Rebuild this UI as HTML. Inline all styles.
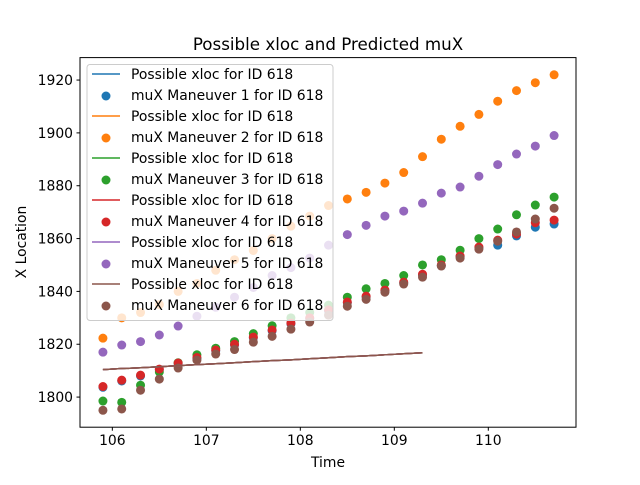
<!DOCTYPE html>
<html><head><meta charset="utf-8"><style>
body{margin:0;background:#fff}
text{font-family:"DejaVu Sans","Liberation Sans",sans-serif}
</style></head><body>
<svg id="chart" width="640" height="480" xmlns="http://www.w3.org/2000/svg"></svg>
<script>
const times=[105.9,106.1,106.3,106.5,106.7,106.9,107.1,107.3,107.5,107.7,107.9,108.1,108.3,108.5,108.7,108.9,109.1,109.3,109.5,109.7,109.9,110.1,110.3,110.5,110.7];
const mux1=[1803.7,1806.1,1808,1810.3,1812.6,1814.7,1817.5,1819.7,1822.4,1825.1,1827.7,1829.7,1832.7,1835.7,1837.9,1840.2,1843.2,1846.2,1849.7,1853.1,1856.5,1857.5,1861,1864.3,1865.5];
const mux2=[1822.3,1830,1832,1835,1840,1843,1848,1852,1855.5,1860,1864.7,1868.5,1872.5,1875,1877.5,1881,1885,1891,1897.6,1902.5,1907,1912,1916,1919,1922];
const mux3=[1798.5,1798,1804.5,1809.5,1813,1816,1818.5,1821,1824,1827,1830,1832,1834.8,1837.8,1841,1843,1846,1850,1852,1855.6,1860,1863.6,1869,1872.7,1875.7];
const mux4=[1804,1806.4,1808.3,1810.6,1812.9,1815,1817.8,1820,1822.7,1825.4,1828,1830,1833,1836,1838.2,1840.5,1843.5,1846.5,1850,1853.4,1856.8,1859.4,1861.7,1866,1867];
const mux5=[1817,1819.7,1821,1823.5,1826.9,1830.6,1834,1837.8,1841.5,1846,1849,1852.6,1857.5,1861.5,1865,1868.5,1870.4,1873.4,1877.2,1879.5,1883.6,1888,1892,1895,1899];
const mux6=[1795,1795.5,1802.6,1806.8,1811,1814,1816.3,1818,1820.8,1823,1825.7,1828.4,1831,1834.4,1837,1839.7,1842.8,1845.4,1849.6,1852.6,1856,1859,1862.5,1867.4,1871.5];
const lineTimes=[105.9,106.1,106.3,106.5,106.7,106.9,107.1,107.3,107.5,107.7,107.9,108.1,108.3,108.5,108.7,108.9,109.1,109.3];
const xlocVals=[1810.4,1810.8,1811.1,1811.5,1811.9,1812.3,1812.6,1813,1813.4,1813.8,1814.1,1814.5,1814.9,1815.3,1815.6,1816,1816.4,1816.8];
const xTicks=[106,107,108,109,110];
const yTicks=[1800,1820,1840,1860,1880,1900,1920];
const colors=['#1f77b4','#ff7f0e','#2ca02c','#d62728','#9467bd','#8c564b'];
const L=80,R=576,T=57.6,B=427.2;
const xmin=105.656,xmax=110.933,ymin=1788.6,ymax=1928.5;
const X=t=>L+(t-xmin)/(xmax-xmin)*(R-L);
const Y=v=>B-(v-ymin)/(ymax-ymin)*(B-T);
const svg=document.getElementById('chart');
const NS='http://www.w3.org/2000/svg';
function mk(tag,at,parent){const e=document.createElementNS(NS,tag);for(const k in at)e.setAttribute(k,at[k]);(parent||svg).appendChild(e);return e;}
const series=[mux1,mux2,mux3,mux4,mux5,mux6];
series.forEach((s,i)=>{
  const g=mk('g',{});
  
  
  s.forEach((v,j)=>{
    const c=mk('circle',{cx:X(times[j]),cy:Y(v),r:4.5,fill:colors[i]},g);
    
    
  });
});
for(let i=0;i<6;i++){
  const p=mk('polyline',{points:lineTimes.map((t,j)=>X(t)+','+Y(xlocVals[j])).join(' '),fill:'none',stroke:colors[i],'stroke-width':1.5});
  
  
}
const frame=mk('rect',{x:L,y:T,width:R-L,height:B-T,fill:'none',stroke:'#000','stroke-width':1});


xTicks.forEach(t=>{
  mk('line',{x1:X(t),x2:X(t),y1:B,y2:B+3.5,stroke:'#000'});
  const tx=mk('text',{x:X(t),y:B+18,'text-anchor':'middle','font-size':'13.9px'});
  tx.textContent=t;
  
  
});
yTicks.forEach(v=>{
  mk('line',{x1:L-3.5,x2:L,y1:Y(v),y2:Y(v),stroke:'#000'});
  const tx=mk('text',{x:L-7,y:Y(v)+5,'text-anchor':'end','font-size':'13.9px'});
  tx.textContent=v;
  
  
});
const lg=mk('g',{});


mk('rect',{x:87,y:64.5,width:246,height:256,rx:3,fill:'#fff','fill-opacity':0.8,stroke:'#ccc'},lg);
for(let k=0;k<12;k++){
  const i=Math.floor(k/2),yy=74+k*21;
  if(k%2===0){mk('line',{x1:92,x2:120,y1:yy,y2:yy,stroke:colors[i],'stroke-width':1.5},lg);}
  else{mk('circle',{cx:106,cy:yy+1,r:4.5,fill:colors[i]},lg);}
  const tx=mk('text',{x:131,y:yy+5,'font-size':'13.9px'},lg);
  tx.textContent=k%2===0?'Possible xloc for ID 618':'muX Maneuver '+(i+1)+' for ID 618';
  
  
}
</script>
<svg style="position:absolute;left:0;top:0" width="640" height="480">
<text x="328" y="50" text-anchor="middle" font-size="16.7px">Possible xloc and Predicted muX</text>
<text x="328" y="467" text-anchor="middle" font-size="13.9px">Time</text>
<text x="26" y="242" text-anchor="middle" font-size="13.9px" transform="rotate(-90 26 242)">X Location</text>
</svg>
</body></html>
